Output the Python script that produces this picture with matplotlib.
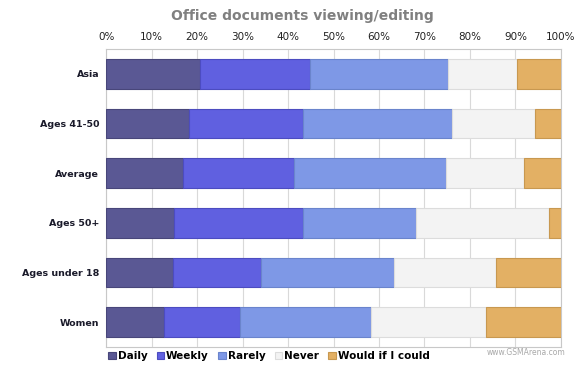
import matplotlib.pyplot as plt
import numpy as np

# Data (percent of respondents)
groups = ['Asia', 'Ages 41-50', 'Average', 'Ages 50+', 'Ages under 18', 'Women']
series = ['Daily', 'Weekly', 'Rarely', 'Never', 'Would if I could']
daily = [20.7, 18.3, 16.8, 14.9, 14.6, 12.7]
weekly = [24.2, 24.9, 24.6, 28.3, 19.5, 16.8]
rarely = [30.3, 32.9, 33.4, 25.0, 29.3, 28.8]
never = [15.1, 18.3, 17.1, 29.3, 22.4, 25.2]
would = [9.7, 5.6, 8.1, 2.5, 14.2, 16.5]
ticks = [0, 10, 20, 30, 40, 50, 60, 70, 80, 90, 100]

colors = ['#5a5894', '#6060e0', '#7e98e6', '#f3f3f3', '#e3b064']
edges = ['#48467a', '#4c4cc0', '#6a84cc', '#dcdcdc', '#c89850']

fig = plt.figure(figsize=(5.8, 3.65), dpi=100)
ax = fig.add_axes([0.183, 0.049, 0.784, 0.817])

y = np.arange(len(groups))[::-1]
left = np.zeros(len(groups))
for vals, name, c, e in zip([daily, weekly, rarely, never, would], series, colors, edges):
    ax.barh(y, vals, 0.6, left=left, color=c, edgecolor=e, linewidth=0.8,
            label=name, zorder=3)
    left += np.array(vals)

ax.set_xlim(0, 100)
ax.set_ylim(-0.5, 5.5)
ax.set_xticks(ticks)
ax.set_xticklabels([f'{t}%' for t in ticks], fontsize=7.5, color='#222222')
ax.xaxis.tick_top()
ax.tick_params(axis='x', length=0, pad=5)
ax.set_yticks(y)
ax.set_yticklabels(groups, fontsize=6.8, fontweight='bold', color='#1a1a2a')
ax.tick_params(axis='y', length=0, pad=5)
ax.grid(axis='x', color='#d9d9d9', linewidth=0.8, zorder=0)
for s in ax.spines.values():
    s.set_color('#c8c8c8')
    s.set_linewidth(0.8)

fig.text(0.522, 0.957, 'Office documents viewing/editing', ha='center', va='center',
         fontsize=10, fontweight='bold', color='#808080')

fig.legend(loc='lower left', bbox_to_anchor=(0.174, -0.01), ncol=5, frameon=False,
           prop={'weight': 'bold', 'size': 7.5}, handlelength=0.7, handleheight=0.7,
           handletextpad=0.2, columnspacing=0.9, borderpad=0.2)

fig.text(0.975, 0.033, 'www.GSMArena.com', ha='right', va='center', fontsize=5.5,
         color='#a8a8a8')

fig.savefig('out.png', dpi=100)
